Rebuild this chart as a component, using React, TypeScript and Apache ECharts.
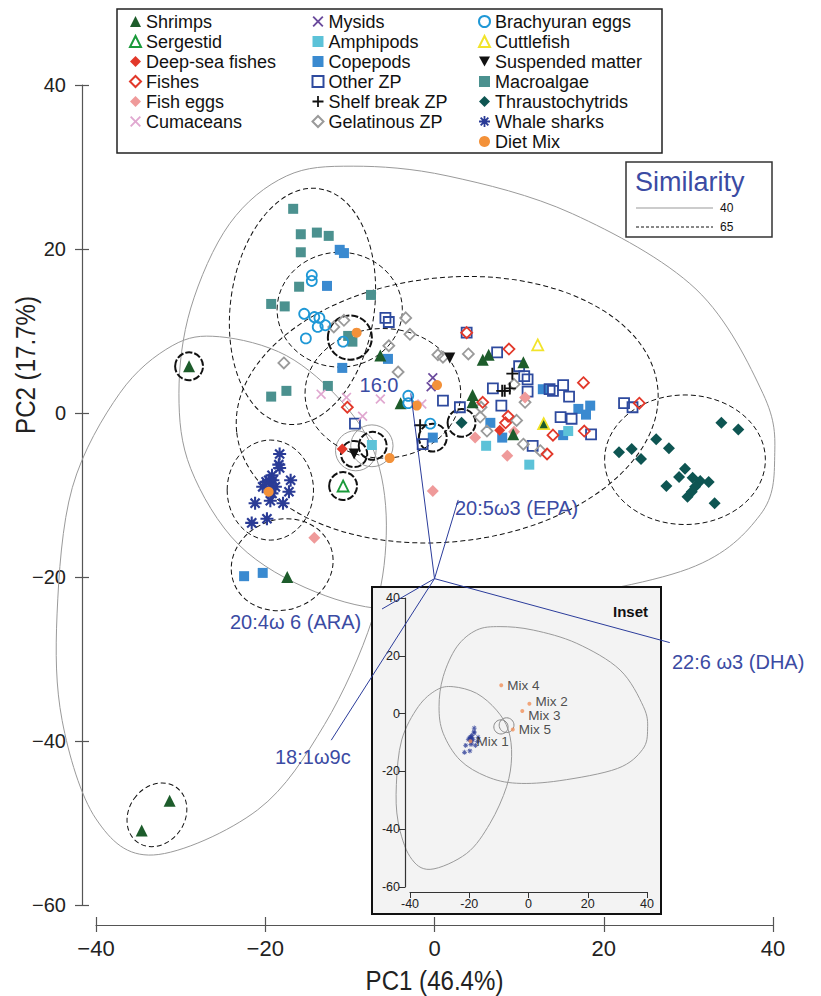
import React, { useEffect, useRef } from 'react';
import * as echarts from 'echarts';

// ---------------- data (PC1, PC2) ----------------
const SHRIMPS = [[-29.0,5.7],[-6.4,7.0],[-4.0,1.2],[5.7,6.5],[6.4,7.1],[10.5,6.2],[4.5,2.2],[4.5,1.3],[9.3,-2.6],[12.9,-1.3],[-17.4,-20.0],[-31.3,-47.3],[-34.6,-50.9]];
const SERGESTID = [[-10.8,-8.9]];
const DEEP_SEA = [[-10.9,-4.4],[7.7,-2.1]];
const FISHES = [[-10.3,0.7],[3.8,9.8],[8.8,7.8],[5.7,1.3],[8.7,-0.4],[8.4,-1.2],[14.0,-2.7],[17.7,-2.2],[13.3,-5.0],[17.6,3.7],[24.2,1.2]];
const FISH_EGGS = [[10.7,1.9],[4.8,-3.0],[9.4,-2.3],[8.6,-5.2],[-14.2,-15.2],[-0.2,-9.5]];
const CUMACEANS = [[-13.4,2.3],[-10.4,1.9],[-6.4,1.7],[-8.5,-0.4],[-1.5,1.1]];
const MYSIDS = [[-0.2,4.3],[-0.4,3.2]];
const AMPHIPODS = [[-7.4,-3.9],[6.1,-4.0],[15.8,-2.2],[11.2,-6.3]];
const COPEPODS = [[-11.2,19.9],[-10.7,19.5],[-12.7,15.5],[-5.5,6.6],[-10.9,5.5],[6.6,-1.2],[8.0,-3.0],[12.8,2.9],[15.2,-2.7],[17.0,0.5],[18.4,0.9],[17.9,-0.2],[-0.2,-3.0],[-22.5,-19.9],[-20.3,-19.5]];
const OTHER_ZP = [[-5.8,11.6],[-5.4,11.1],[3.8,9.8],[7.4,7.4],[10.0,5.7],[10.6,4.5],[11.0,4.1],[11.0,2.6],[6.9,3.0],[7.9,0.9],[1.0,1.5],[3.0,0.7],[13.6,2.9],[14.0,2.7],[15.2,3.4],[15.9,2.0],[14.9,-0.5],[16.2,-0.7],[18.5,-2.6],[11.6,-4.0],[22.4,1.2],[23.4,0.7],[-1.4,-3.8],[-9.4,-1.3]];
const SHELF_BREAK = [[9.2,4.8],[8.0,2.7],[8.3,2.7],[8.9,3.0],[-1.7,-1.5]];
const GELATINOUS = [[-10.7,11.3],[-11.9,10.5],[-3.4,11.6],[-2.9,9.6],[-5.4,8.2],[-4.3,5.0],[-17.8,6.1],[0.4,7.1],[1.0,6.8],[4.0,7.2],[9.4,3.5],[10.7,1.3],[5.5,0.7],[5.4,-0.5],[9.7,-0.9],[6.2,-2.2],[10.5,-3.8],[12.5,-4.6]];
const BRACHYURAN = [[-14.5,16.8],[-14.5,16.1],[-15.4,12.1],[-14.2,11.7],[-13.6,11.6],[-12.9,10.7],[-13.8,10.5],[-15.2,9.1],[-10.8,8.7],[-3.1,2.1],[-3.1,1.2],[-0.5,-1.3]];
const CUTTLEFISH = [[12.2,8.3],[12.9,-1.3]];
const SUSPENDED = [[1.8,6.7],[-9.5,-5.0]];
const MACROALGAE = [[-16.7,24.9],[-15.8,21.8],[-13.9,22.0],[-12.5,21.6],[-15.8,19.6],[-16.0,15.4],[-19.3,13.3],[-17.7,13.0],[-7.5,14.4],[-10.2,9.4],[-9.7,8.7],[-12.6,3.3],[-19.3,2.0],[-17.5,2.7]];
const THRAUSTO = [[33.9,-1.2],[35.9,-2.0],[26.2,-3.2],[27.7,-4.3],[21.8,-4.8],[23.3,-4.4],[24.4,-5.6],[29.6,-6.8],[28.9,-7.8],[27.4,-8.9],[30.5,-7.9],[31.4,-8.3],[32.4,-8.4],[30.8,-9.0],[30.4,-9.6],[29.9,-10.2],[33.1,-11.0],[3.2,-1.2]];
const WHALE_SHARKS = [[-18.3,-5.0],[-18.4,-6.3],[-18.3,-6.7],[-19.2,-7.6],[-19.6,-8.2],[-19.9,-8.4],[-19.1,-8.2],[-20.3,-9.0],[-19.4,-9.0],[-18.8,-9.0],[-19.2,-9.8],[-17.0,-8.2],[-17.2,-9.6],[-21.2,-11.0],[-19.4,-10.7],[-17.9,-11.0],[-21.6,-13.4],[-19.8,-12.9]];
const DIET_MIX = [[-9.2,9.8],[-2.1,0.9],[0.3,3.4],[-5.3,-5.5],[-19.6,-9.6]];
const MIX_LABELS = ['Mix 4','Mix 3','Mix 2','Mix 5','Mix 1'];

// similarity contours (data units)
const CONTOUR_A = [[-30.2,2.4],[-28.8,12.8],[-24.2,23.1],[-17.5,28.9],[-9.6,30.1],[1.6,28.9],[16.3,24.3],[30.9,15.1],[38.8,2.4],[40.2,-5.3],[38.5,-12.4],[30.0,-19.0],[10.6,-23.2],[-4.0,-24.1],[-14.1,-21.8],[-23.1,-16.1],[-28.8,-6.8]];
const CONTOUR_B = [[-44.6,-24.5],[-42.8,-9.1],[-37.2,2.4],[-31.0,8.2],[-25.4,9.3],[-17.5,7.0],[-10.8,1.2],[-6.8,-5.7],[-5.7,-14.9],[-7.4,-25.3],[-13.0,-38.0],[-20.9,-48.4],[-33.2,-53.9],[-40.0,-49.5],[-44.0,-37.5]];
// [cx, cy, rx, ry, rotationDeg]
const GREY_RINGS = [[-9.3,-4.6,2.4,2.45,0],[-7.4,-4.0,2.5,2.55,0]];
const DASHED_BIG = [[-15.6,13.0,8.5,14.5,-8],[-11.2,12.6,7.4,7.0,0],[1.5,0.4,25.0,16.1,6],[29.6,-5.7,9.5,7.9,0],[-19.4,-9.4,5.1,6.1,0],[-18.0,-18.5,6.1,5.5,20],[-32.8,-49.0,3.3,4.1,-35],[-6.1,2.4,9.2,7.9,0]];
const DASHED_SMALL = [[-29.0,5.7,1.65,1.7,0],[-10.0,9.2,2.6,2.7,0],[-10.8,-8.9,1.65,1.7,0],[-9.5,-5.0,1.55,1.6,0],[-7.3,-4.0,1.65,1.7,0],[3.2,-1.2,1.65,1.7,0],[-0.2,-3.0,1.65,1.7,0]];

// fatty-acid loading vectors
const VECTOR_ORIGIN = [0, -20.2];
const VECTOR_ENDS = [[-2.8,2.4],[2.8,-10.6],[-6.2,-23.9],[27.8,-28.0],[-12.2,-39.9]];
const VECTOR_NAMES = ['16:0','20:5ω3 (EPA)','20:4ω 6 (ARA)','22:6 ω3 (DHA)','18:1ω9c'];

const X_MIN = -40, X_MAX = 40, Y_MIN = -60, Y_MAX = 40, STEP = 20;

const LEGEND_COLS = [
  ['Shrimps','Sergestid','Deep-sea fishes','Fishes','Fish eggs','Cumaceans'],
  ['Mysids','Amphipods','Copepods','Other ZP','Shelf break ZP','Gelatinous ZP'],
  ['Brachyuran eggs','Cuttlefish','Suspended matter','Macroalgae','Thraustochytrids','Whale sharks','Diet Mix'],
];

// ---------------- styles ----------------
const FONT = '"Liberation Sans", Arial, Helvetica, sans-serif';
const BLUE_TXT = '#3b4ba3';
const CROSS = 'path://M0,1.2L1.2,0L5,3.8L8.8,0L10,1.2L6.2,5L10,8.8L8.8,10L5,6.2L1.2,10L0,8.8L3.8,5Z';
const PLUS = 'path://M4.2,0H5.8V4.2H10V5.8H5.8V10H4.2V5.8H0V4.2H4.2Z';
const STAR = 'path://M4.2,0H5.8V4.2H10V5.8H5.8V10H4.2V5.8H0V4.2H4.2ZM0.9,2.1L2.1,0.9L5,3.8L7.9,0.9L9.1,2.1L6.2,5L9.1,7.9L7.9,9.1L5,6.2L2.1,9.1L0.9,7.9L3.8,5Z';
const DOWN_TRI = 'path://M0,0L10,0L5,9Z';

type Sp = { name: string; data: number[][]; symbol: string; color: string; size: number; hollow?: boolean };
const SPECIES: Sp[] = [
  { name: 'Macroalgae', data: MACROALGAE, symbol: 'rect', color: '#4b918f', size: 10 },
  { name: 'Thraustochytrids', data: THRAUSTO, symbol: 'diamond', color: '#0e5552', size: 12 },
  { name: 'Copepods', data: COPEPODS, symbol: 'rect', color: '#3a8ad0', size: 10 },
  { name: 'Amphipods', data: AMPHIPODS, symbol: 'rect', color: '#5cc2d8', size: 10 },
  { name: 'Other ZP', data: OTHER_ZP, symbol: 'rect', color: '#2e4a9e', size: 10, hollow: true },
  { name: 'Gelatinous ZP', data: GELATINOUS, symbol: 'diamond', color: '#9a9a9a', size: 11, hollow: true },
  { name: 'Fishes', data: FISHES, symbol: 'diamond', color: '#e2382a', size: 11, hollow: true },
  { name: 'Deep-sea fishes', data: DEEP_SEA, symbol: 'diamond', color: '#e2382a', size: 11 },
  { name: 'Fish eggs', data: FISH_EGGS, symbol: 'diamond', color: '#ef9a9a', size: 12 },
  { name: 'Shrimps', data: SHRIMPS, symbol: 'triangle', color: '#1d5c2b', size: 12 },
  { name: 'Sergestid', data: SERGESTID, symbol: 'triangle', color: '#1a9a3a', size: 11, hollow: true },
  { name: 'Brachyuran eggs', data: BRACHYURAN, symbol: 'circle', color: '#1f98d6', size: 10, hollow: true },
  { name: 'Cumaceans', data: CUMACEANS, symbol: CROSS, color: '#e0a8d0', size: 10 },
  { name: 'Mysids', data: MYSIDS, symbol: CROSS, color: '#6a4a9c', size: 10 },
  { name: 'Shelf break ZP', data: SHELF_BREAK, symbol: PLUS, color: '#111111', size: 12 },
  { name: 'Suspended matter', data: SUSPENDED, symbol: DOWN_TRI, color: '#111111', size: 11 },
  { name: 'Whale sharks', data: WHALE_SHARKS, symbol: STAR, color: '#2a3b96', size: 13 },
  { name: 'Cuttlefish', data: CUTTLEFISH, symbol: 'triangle', color: '#f2e42a', size: 11, hollow: true },
  { name: 'Diet Mix', data: DIET_MIX, symbol: 'circle', color: '#f39139', size: 10 },
];

function minus(v: number) { return String(v).replace('-', '\u2212'); }

// closed Catmull-Rom curve through projected contour points
function closedSpline(p: number[][]) {
  const n = p.length;
  let d = `M ${p[0][0]} ${p[0][1]}`;
  for (let i = 0; i < n; i++) {
    const p0 = p[(i - 1 + n) % n], p1 = p[i], p2 = p[(i + 1) % n], p3 = p[(i + 2) % n];
    const c1 = [p1[0] + (p2[0] - p0[0]) / 6, p1[1] + (p2[1] - p0[1]) / 6];
    const c2 = [p2[0] - (p3[0] - p1[0]) / 6, p2[1] - (p3[1] - p1[1]) / 6];
    d += ` C ${c1[0]} ${c1[1]} ${c2[0]} ${c2[1]} ${p2[0]} ${p2[1]}`;
  }
  return d + ' Z';
}

function polySeries(name: string, pts: number[][], axis: number, z: number) {
  return {
    type: 'custom', name, coordinateSystem: 'cartesian2d', xAxisIndex: axis, yAxisIndex: axis, z, silent: true,
    data: pts,
    renderItem: (params: any, api: any) => {
      if (params.dataIndex !== 0) return null;
      const p = pts.map((q) => api.coord(q));
      return { type: 'path', shape: { pathData: closedSpline(p) }, style: { fill: 'none', stroke: '#9a9a9a', lineWidth: 1 } };
    },
  };
}

function ellSeries(name: string, list: number[][], axis: number, stroke: string, dash: any, width: number, z: number) {
  return {
    type: 'custom', name, coordinateSystem: 'cartesian2d', xAxisIndex: axis, yAxisIndex: axis, z, silent: true,
    data: list,
    renderItem: (params: any, api: any) => {
      const c = api.coord([api.value(0), api.value(1)]);
      const s = api.size([api.value(2), api.value(3)]);
      return {
        type: 'group', x: c[0], y: c[1], rotation: (api.value(4) * Math.PI) / 180,
        children: [{ type: 'ellipse', shape: { cx: 0, cy: 0, rx: s[0], ry: s[1] }, style: { fill: 'none', stroke, lineWidth: width, lineDash: dash } }],
      };
    },
  };
}

export default function App() {
  const ref = useRef<HTMLDivElement>(null);
  useEffect(() => {
    if (!ref.current) return;
    const chart = echarts.init(ref.current, undefined, { renderer: 'svg' });

    const xCommon = { type: 'value', min: X_MIN, max: X_MAX, interval: STEP, splitLine: { show: false } };
    const yCommon = { type: 'value', min: Y_MIN, max: Y_MAX, interval: STEP, splitLine: { show: false } };
    const mainLine = { show: true, onZero: false, lineStyle: { color: '#555', width: 1.2 } };
    const noLine = { show: false, onZero: false };
    const insetLine = { show: true, onZero: false, lineStyle: { color: '#333', width: 1.2 } };

    const scatterSeries = SPECIES.map((s) => ({
      type: 'scatter', name: s.name, data: s.data, xAxisIndex: 0, yAxisIndex: 0, z: 3, silent: true,
      symbol: s.symbol, symbolSize: s.size,
      itemStyle: s.hollow
        ? { color: 'rgba(255,255,255,0)', borderColor: s.color, borderWidth: 1.8, opacity: 1 }
        : { color: s.color, borderWidth: 0, opacity: 1 },
    }));

    const legends = LEGEND_COLS.map((col, i) => ({
      show: true, orient: 'vertical', left: [129, 311.5, 478][i], top: 11.5, padding: 0,
      itemWidth: 11, itemHeight: 11, itemGap: 0, selectedMode: false, data: col,
      textStyle: { fontFamily: FONT, fontSize: 18, color: '#111', lineHeight: 20 },
    }));

    const mixLabelShift = [[0, 0], [0, 5], [0, -2], [0, 0], [0, 0]];

    const option: any = {
      animation: false,
      backgroundColor: '#ffffff',
      legend: legends,
      grid: [
        { left: 96, right: 48, top: 85, bottom: 91 },
        { left: 410, width: 237, top: 598, height: 289 },
      ],
      xAxis: [
        { ...xCommon, gridIndex: 0, position: 'bottom', offset: 20, axisLine: mainLine,
          axisTick: { show: true, inside: true, length: 8, lineStyle: { color: '#555', width: 1.2 } },
          axisLabel: { margin: 12, fontFamily: FONT, fontSize: 22, color: '#222', formatter: minus } },
        { ...xCommon, gridIndex: 0, position: 'bottom', offset: 20, axisLine: noLine,
          axisTick: { show: true, inside: false, length: 7, lineStyle: { color: '#555', width: 1.2 } },
          axisLabel: { show: false } },
        { ...xCommon, gridIndex: 1, position: 'bottom', offset: 5, z: 11, axisLine: insetLine,
          axisTick: { show: true, length: 6, lineStyle: { color: '#333' } },
          axisLabel: { margin: 5, fontFamily: FONT, fontSize: 12.5, color: '#222' } },
      ],
      yAxis: [
        { ...yCommon, gridIndex: 0, position: 'left', offset: 14, axisLine: mainLine,
          axisTick: { show: true, inside: true, length: 7, lineStyle: { color: '#555', width: 1.2 } },
          axisLabel: { margin: 16, fontFamily: FONT, fontSize: 20, color: '#222', formatter: minus } },
        { ...yCommon, gridIndex: 0, position: 'left', offset: 14, axisLine: noLine,
          axisTick: { show: true, inside: false, length: 7, lineStyle: { color: '#555', width: 1.2 } },
          axisLabel: { show: false } },
        { ...yCommon, gridIndex: 1, position: 'left', offset: 5, z: 11, axisLine: insetLine,
          axisTick: { show: true, length: 6, lineStyle: { color: '#333' } },
          axisLabel: { margin: 5, fontFamily: FONT, fontSize: 12.5, color: '#222' } },
      ],
      graphic: [
        { type: 'rect', z: 1, shape: { x: 117, y: 9, width: 545, height: 144 }, style: { fill: '#fff', stroke: '#222', lineWidth: 1.5 } },
        { type: 'rect', z: 1, shape: { x: 626, y: 162, width: 146, height: 75 }, style: { fill: '#fff', stroke: '#333', lineWidth: 1.5 } },
        { type: 'text', z: 2, style: { text: 'Similarity', x: 635, y: 182, fontFamily: FONT, fontSize: 27, fill: BLUE_TXT, textAlign: 'left', textVerticalAlign: 'middle' } },
        { type: 'line', z: 2, shape: { x1: 636, y1: 208, x2: 713, y2: 208 }, style: { stroke: '#999', lineWidth: 1 } },
        { type: 'text', z: 2, style: { text: '40', x: 720, y: 208, fontFamily: FONT, fontSize: 12, fill: '#111', textAlign: 'left', textVerticalAlign: 'middle' } },
        { type: 'line', z: 2, shape: { x1: 636, y1: 227, x2: 713, y2: 227 }, style: { stroke: '#111', lineWidth: 1, lineDash: [3, 2] } },
        { type: 'text', z: 2, style: { text: '65', x: 720, y: 227, fontFamily: FONT, fontSize: 12, fill: '#111', textAlign: 'left', textVerticalAlign: 'middle' } },
        { type: 'text', z: 2, x: 434.5, y: 980, scaleX: 0.86, style: { text: 'PC1 (46.4%)', x: 0, y: 0, fontFamily: FONT, fontSize: 28, fill: '#222', textAlign: 'center', textVerticalAlign: 'middle' } },
        { type: 'text', z: 2, x: 25, y: 365, rotation: Math.PI / 2, scaleX: 0.86, style: { text: 'PC2 (17.7%)', x: 0, y: 0, fontFamily: FONT, fontSize: 28, fill: '#222', textAlign: 'center', textVerticalAlign: 'middle' } },
        { type: 'rect', z: 5, shape: { x: 372, y: 587, width: 289, height: 327 }, style: { fill: '#f3f3f3', stroke: '#111', lineWidth: 2 } },
        { type: 'text', z: 11, style: { text: 'Inset', x: 648, y: 611, fontFamily: FONT, fontSize: 15, fontWeight: 'bold', fill: '#111', textAlign: 'right', textVerticalAlign: 'middle' } },
        { type: 'text', z: 13, style: { text: VECTOR_NAMES[0], x: 379, y: 385, fontFamily: FONT, fontSize: 20, fill: BLUE_TXT, textAlign: 'center', textVerticalAlign: 'middle' } },
        { type: 'text', z: 13, style: { text: VECTOR_NAMES[1], x: 455, y: 508, fontFamily: FONT, fontSize: 20, fill: BLUE_TXT, textAlign: 'left', textVerticalAlign: 'middle' } },
        { type: 'text', z: 13, style: { text: VECTOR_NAMES[2], x: 230, y: 622, fontFamily: FONT, fontSize: 20, fill: BLUE_TXT, textAlign: 'left', textVerticalAlign: 'middle' } },
        { type: 'text', z: 13, style: { text: VECTOR_NAMES[3], x: 672, y: 662, fontFamily: FONT, fontSize: 20, fill: BLUE_TXT, textAlign: 'left', textVerticalAlign: 'middle' } },
        { type: 'text', z: 13, style: { text: VECTOR_NAMES[4], x: 275, y: 757, fontFamily: FONT, fontSize: 20, fill: BLUE_TXT, textAlign: 'left', textVerticalAlign: 'middle' } },
      ],
      series: [
        polySeries('sim40-a', CONTOUR_A, 0, 2),
        polySeries('sim40-b', CONTOUR_B, 0, 2),
        ellSeries('sim40-rings', GREY_RINGS, 0, '#9a9a9a', null, 1, 2),
        ellSeries('sim65', DASHED_BIG, 0, '#111', [5, 3], 1, 2),
        ellSeries('sim65-small', DASHED_SMALL, 0, '#111', [7, 2], 2, 2),
        ...scatterSeries,
        // inset
        polySeries('inset-a', CONTOUR_A, 2, 10),
        polySeries('inset-b', CONTOUR_B, 2, 10),
        ellSeries('inset-rings', GREY_RINGS, 2, '#8a8a8a', null, 1, 10),
        { type: 'scatter', name: 'inset whale sharks', data: WHALE_SHARKS, xAxisIndex: 2, yAxisIndex: 2, z: 10, silent: true,
          symbol: STAR, symbolSize: 5, itemStyle: { color: '#2a3b96' } },
        { type: 'scatter', name: 'inset diet mix', xAxisIndex: 2, yAxisIndex: 2, z: 10, silent: true,
          data: DIET_MIX.map((v, i) => ({ value: v, label: { offset: mixLabelShift[i] } })),
          symbol: 'circle', symbolSize: 4, itemStyle: { color: '#f0905a' },
          label: { show: true, position: 'right', distance: 4, formatter: (p: any) => MIX_LABELS[p.dataIndex], fontFamily: FONT, fontSize: 13.5, color: '#222' } },
        // loading vectors
        { type: 'custom', name: 'vectors', coordinateSystem: 'cartesian2d', xAxisIndex: 0, yAxisIndex: 0, z: 12, silent: true,
          data: VECTOR_ENDS,
          renderItem: (params: any, api: any) => {
            const a = api.coord(VECTOR_ORIGIN);
            const b = api.coord([api.value(0), api.value(1)]);
            return { type: 'line', shape: { x1: a[0], y1: a[1], x2: b[0], y2: b[1] }, style: { stroke: '#2b3c9b', lineWidth: 1 } };
          } },
      ],
    };
    chart.setOption(option);
    return () => chart.dispose();
  }, []);
  return <div ref={ref} style={{ position: 'fixed', left: 0, top: 0, width: 821, height: 996, background: '#fff' }} />;
}
